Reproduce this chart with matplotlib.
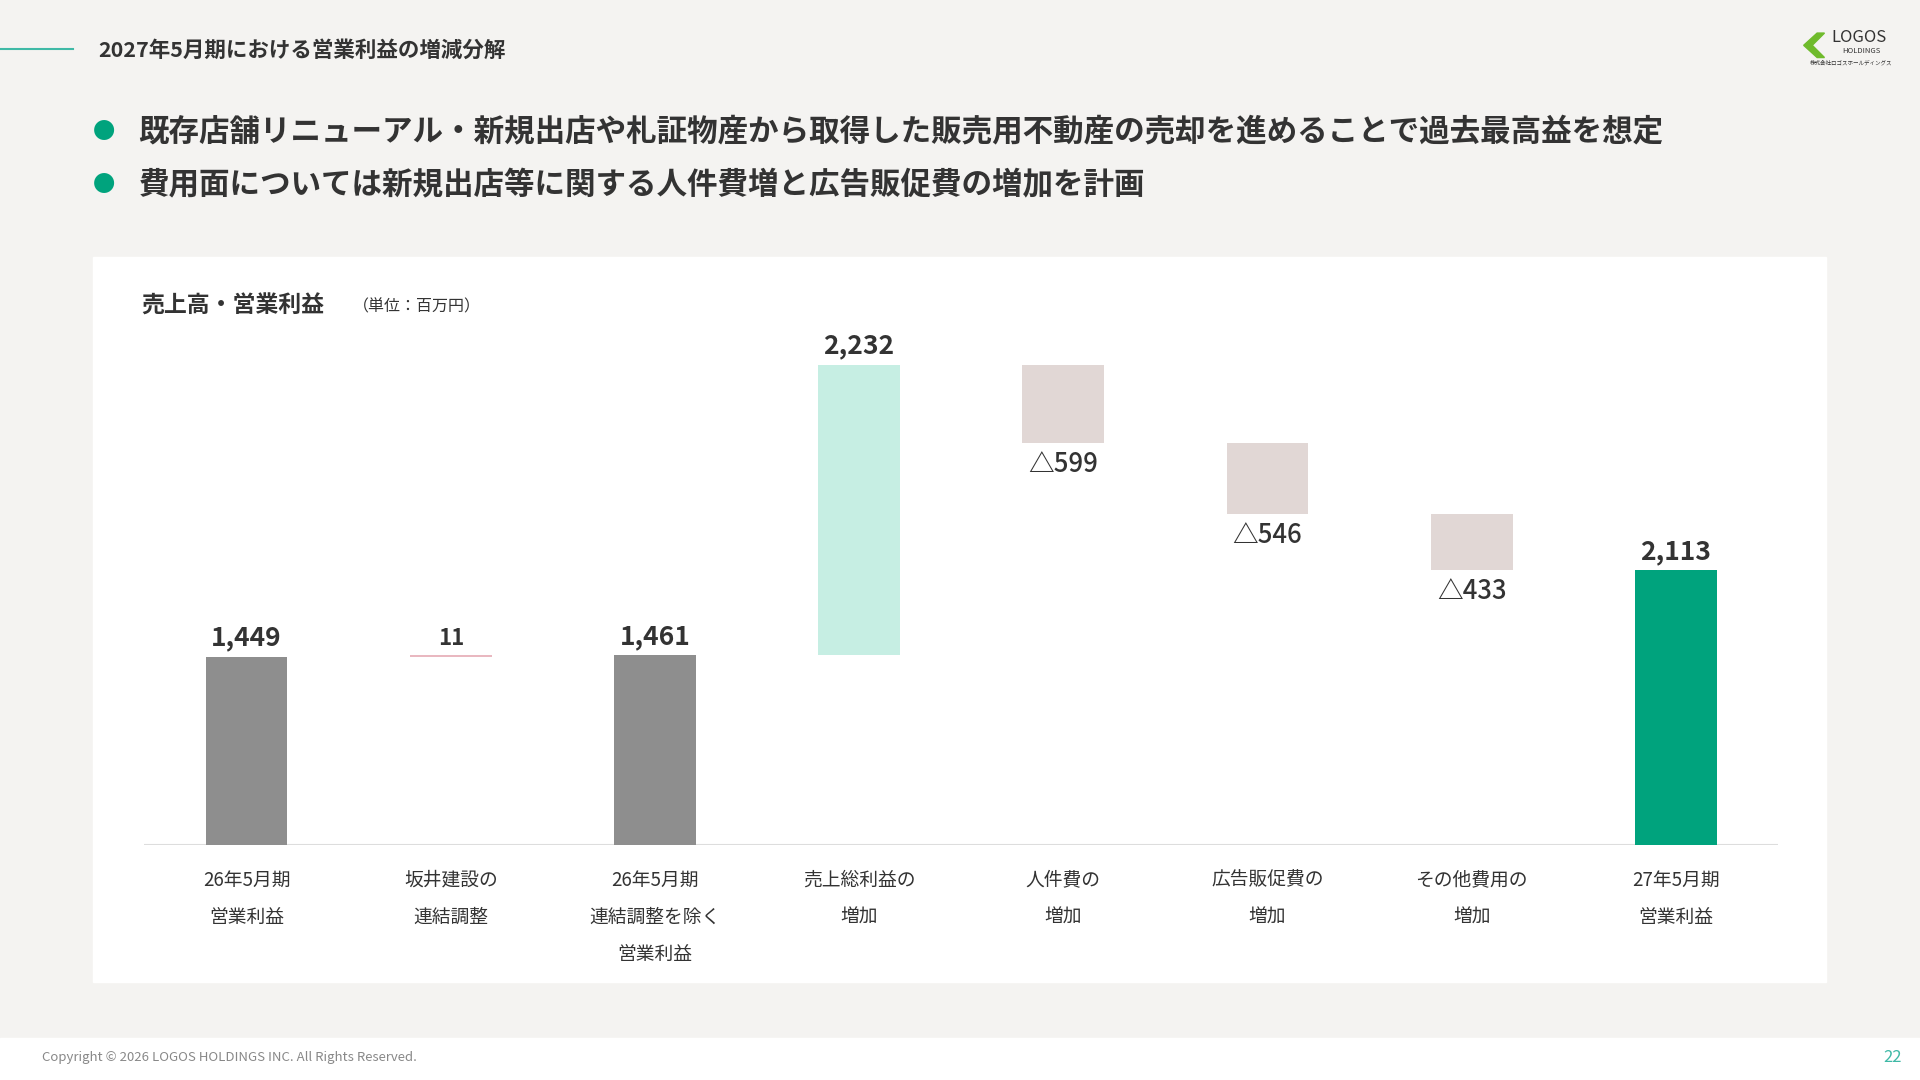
import matplotlib.pyplot as plt
from matplotlib.patches import Rectangle, Polygon
import matplotlib.lines as mlines

plt.rcParams['font.family'] = ['Noto Sans CJK JP', 'DejaVu Sans']

categories = ["26年5月期\n営業利益", "坂井建設の\n連結調整", "26年5月期\n連結調整を除く\n営業利益",
              "売上総利益の\n増加", "人件費の\n増加", "広告販促費の\n増加", "その他費用の\n増加", "27年5月期\n営業利益"]
values = [1449, 11, 1461, 2232, -599, -546, -433, 2113]
labels = ["1,449", "11", "1,461", "2,232", "△599", "△546", "△433", "2,113"]
kinds = ["total", "step", "total", "step", "step", "step", "step", "total"]
colors = ["#8e8e8e", "#e9b8c0", "#8e8e8e", "#c6eee3", "#e1d7d5", "#e1d7d5", "#e1d7d5", "#00a37d"]

W, H = 1568, 882
def fx(x): return x / W
def fy(y): return 1 - y / H

fig = plt.figure(figsize=(19.2, 10.8), dpi=100)
fig.patch.set_facecolor("#f4f3f1")

# header
fig.add_artist(mlines.Line2D([0, fx(60)], [fy(40), fy(40)], color="#3fb9a6", lw=1.5))
fig.text(fx(80), fy(41), "2027年5月期における営業利益の増減分解", fontsize=15.5, fontweight="bold",
         color="#333333", va="center")
for y, t in [(107, "既存店舗リニューアル・新規出店や札証物産から取得した販売用不動産の売却を進めることで過去最高益を想定"),
             (151, "費用面については新規出店等に関する人件費増と広告販促費の増加を計画")]:
    fig.text(fx(85), fy(y), "●", fontsize=16, color="#00a37d", va="center", ha="center")
    fig.text(fx(113), fy(y), t, fontsize=22, fontweight="bold", color="#333333", va="center")

# logo
fig.patches.append(Polygon([[fx(1490), fy(27)], [fx(1480), fy(37)], [fx(1490), fy(47)], [fx(1484), fy(47)],
                            [fx(1473), fy(37)], [fx(1484), fy(27)]], closed=True, color="#6fbb2c",
                           transform=fig.transFigure))
fig.text(fx(1518), fy(31), "LOGOS", fontsize=12, color="#333333", ha="center", va="center")
fig.text(fx(1520), fy(42), "HOLDINGS", fontsize=5.5, color="#333333", ha="center", va="center")
fig.text(fx(1512), fy(51), "株式会社ロゴスホールディングス", fontsize=4, color="#333333", ha="center", va="center")

# panel
fig.patches.append(Rectangle((fx(76), fy(802)), fx(1491 - 76), fy(210) - fy(802), color="white",
                             transform=fig.transFigure, zorder=0))
fig.text(fx(115), fy(250), "売上高・営業利益", fontsize=16.5, fontweight="bold", color="#333333", va="center")
fig.text(fx(288), fy(251), "（単位：百万円）", fontsize=11.5, color="#333333", va="center")

# footer
fig.patches.append(Rectangle((0, 0), 1, fy(848), color="white", transform=fig.transFigure, zorder=0))
fig.text(fx(34), fy(864), "Copyright © 2026 LOGOS HOLDINGS INC. All Rights Reserved.", fontsize=9.5,
         color="#888888", va="center")
fig.text(fx(1553), fy(864), "22", fontsize=12, color="#3fb9a6", va="center", ha="right")

# chart
ax = fig.add_axes([fx(118), fy(690), fx(1452 - 118), fy(270) - fy(690)])
ax.set_zorder(3)
ax.set_facecolor("none")
ymax = 420 / (392 / 3693)
ax.set_ylim(0, ymax)
ax.set_xlim(-0.5, len(values) - 0.5)

running = 0
for i, (v, k, c, lab) in enumerate(zip(values, kinds, colors, labels)):
    if k == "total":
        bottom, top = 0, v
        running = v
    else:
        bottom, top = (running, running + v) if v >= 0 else (running + v, running)
        running += v
    h = max(top - bottom, 12)
    ax.bar(i, h, bottom=bottom, width=0.4, color=c, zorder=2)
    if v >= 0:
        ax.text(i, top + 40, lab, ha="center", va="bottom", fontsize=19 if v > 100 else 16,
                fontweight="bold", color="#333333")
    else:
        ax.text(i, bottom - 60, lab, ha="center", va="top", fontsize=18.5, fontweight="medium",
                color="#333333")
    ax.text(i, -190, categories[i], ha="center", va="top", fontsize=13.5, color="#333333", linespacing=2.0)

ax.axhline(0, color="#dddddd", lw=1.5, zorder=1)
ax.set_xticks([])
ax.set_yticks([])
for s in ax.spines.values():
    s.set_visible(False)

fig.savefig("out.png", dpi=100, facecolor=fig.get_facecolor())
